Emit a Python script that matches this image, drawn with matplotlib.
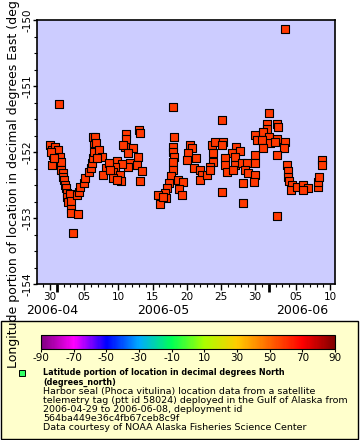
import datetime as dt
import matplotlib
matplotlib.use('Agg')
import matplotlib.pyplot as plt
import matplotlib.dates as mdates
from matplotlib.colors import LinearSegmentedColormap, Normalize
from matplotlib.patches import Rectangle
from matplotlib.ticker import MultipleLocator

plt.rcParams['axes.unicode_minus'] = False

# --- data ---
start = dt.datetime(2006, 4, 29)
# days since 2006-04-29 00:00
days = [
    2.32, 1.00, 1.29, 1.44, 1.73, 2.17, 2.46, 2.61, 1.29, 2.61, 2.90, 2.90, 3.05,
    3.20, 3.34, 3.49, 3.49, 3.64, 3.93, 4.07, 4.07, 4.07, 5.10, 4.37, 4.95, 5.25,
    5.39, 5.98, 6.12, 6.71, 7.00, 7.15, 7.30, 7.44, 7.44, 7.30, 1.15, 1.59,
    7.59, 7.73, 8.17, 8.61, 7.88, 9.20, 8.76, 12.13, 12.13, 11.98, 11.69, 13.15,
    12.42, 14.03, 14.18, 13.88, 12.71, 12.42, 13.74, 14.47, 14.18, 10.81, 11.54,
    10.52, 10.22, 11.25, 10.22, 11.40, 10.81, 9.64, 9.78,
    19.01, 19.16, 19.01, 19.01, 19.16, 19.01, 19.01, 18.72, 18.42, 18.13, 17.84,
    17.98, 17.11, 16.81, 17.54, 19.74, 20.47, 19.89, 20.33, 21.50, 21.79, 21.20,
    22.38, 21.06, 22.08, 22.96, 23.25, 22.96,
    26.18, 24.72, 25.16, 26.33, 26.18, 24.87, 24.87, 24.43, 23.99, 24.43, 28.23,
    27.65, 28.82, 26.62, 28.09, 26.62, 26.91, 28.09, 27.79, 29.11, 29.84, 29.55,
    29.99, 29.26, 26.18, 29.26, 31.01, 31.31, 31.01, 31.01, 31.01, 30.87,
    35.41, 33.06, 32.77, 34.24, 34.38, 32.77, 32.19, 33.06, 32.05, 34.24, 35.41,
    33.21, 32.19, 35.26, 34.24, 33.94, 35.70, 35.85, 35.85, 35.99, 36.43, 36.29,
    37.16, 38.04, 38.77, 38.04, 40.24, 40.24, 40.38, 40.82, 40.82, 34.24,
]
lon = [
    -151.27, -151.89, -151.97, -152.05, -151.92, -151.97, -152.08, -152.15,
    -152.20, -152.27, -152.32, -152.38, -152.42, -152.50, -152.55, -152.62,
    -152.68, -152.76, -152.64, -152.74, -152.86, -152.92, -152.94, -153.23,
    -152.65, -152.61, -152.53, -152.47, -152.39, -152.30, -152.24, -152.17,
    -152.09, -152.00, -151.86, -151.77, -152.00, -152.09,
    -151.77, -151.86, -151.97, -152.08, -152.09, -152.24, -152.35, -151.73,
    -151.80, -151.92, -151.89, -151.94, -152.02, -151.67, -151.71, -152.08,
    -152.17, -152.23, -152.20, -152.29, -152.44, -152.14, -152.18, -152.23,
    -152.30, -152.35, -152.39, -152.44, -152.42, -152.17, -152.27,
    -151.32, -151.77, -151.92, -152.00, -152.08, -152.15, -152.27, -152.36,
    -152.47, -152.55, -152.62, -152.70, -152.79, -152.65, -152.68, -152.42,
    -152.45, -152.56, -152.65, -151.89, -151.94, -152.02, -152.09, -152.12,
    -152.24, -152.27, -152.35, -152.42,
    -151.52, -151.89, -151.85, -151.85, -151.89, -152.02, -152.15, -152.23,
    -152.35, -152.27, -151.92, -152.02, -151.98, -152.09, -152.08, -152.20,
    -152.30, -152.20, -152.27, -152.17, -152.17, -152.27, -152.32, -152.47,
    -152.61, -152.77, -151.74, -151.82, -152.05, -152.17, -152.35, -152.45,
    -150.14, -151.41, -151.58, -151.58, -151.62, -151.65, -151.70, -151.77,
    -151.82, -151.80, -151.85, -151.86, -151.94, -151.94, -152.05, -151.85,
    -152.20, -152.29, -152.38, -152.44, -152.50, -152.58, -152.53, -152.50,
    -152.55, -152.58, -152.53, -152.45, -152.38, -152.12, -152.20, -152.97,
]
seal_lat = 58.6  # latitude used for marker colour
cbar_ticks = list(range(-90, 91, 20))
month_labels = ['2006-04', '2006-05', '2006-06']
month_label_days = [1.29, 17.54, 37.9]
month_starts = [dt.datetime(2006, 5, 1), dt.datetime(2006, 6, 1)]

times = [start + dt.timedelta(days=d) for d in days]

# ERDDAP-like rainbow palette
cmap = LinearSegmentedColormap.from_list('rainbow_erd', [
    '#800080', '#ff00ff', '#0000ff', '#00aaff', '#00ff55',
    '#aaff00', '#ffcc00', '#ff6600', '#ff0000', '#800000'])
norm = Normalize(-90, 90)

fig = plt.figure(figsize=(3.6, 4.4), dpi=100)
W, H = 360, 440

# legend box behind everything
fig.patches.append(Rectangle((1 / W, 1 / H), 357 / W, 118 / H, transform=fig.transFigure,
                             facecolor='#ffffcc', edgecolor='black', lw=1, zorder=-5))

ax = fig.add_axes([37 / W, 1 - 284 / H, 298 / W, 264 / H])
ax.set_facecolor('#ccccff')
ax.scatter(times, lon, marker='s', s=27, color=cmap(norm(seal_lat)),
           edgecolors='black', linewidths=0.8, zorder=3)

ax.set_xlim(start - dt.timedelta(days=0.9), start + dt.timedelta(days=42.7))
ax.set_ylim(-154, -150)
for sp in ax.spines.values():
    sp.set_linewidth(1.2)

ax.xaxis.set_major_locator(mdates.DayLocator(bymonthday=[5, 10, 15, 20, 25, 30]))
ax.xaxis.set_major_formatter(mdates.DateFormatter('%d'))
ax.xaxis.set_minor_locator(mdates.DayLocator())
ax.yaxis.set_major_locator(MultipleLocator(1))
ax.yaxis.set_minor_locator(MultipleLocator(0.25))
ax.tick_params(axis='x', which='major', length=4, width=1, labelsize=7.5, pad=2)
ax.tick_params(axis='y', which='major', length=3, width=1, labelsize=7.5, pad=0.5)
ax.tick_params(axis='both', which='minor', length=2, width=0.8)
for lab in ax.get_yticklabels():
    lab.set_rotation(90)
    lab.set_va('center')

# month boundary marks and month labels
xtr = ax.get_xaxis_transform()
ax.vlines(month_starts, -0.03, 0, transform=xtr, colors='black', lw=2, clip_on=False)
for lab, d in zip(month_labels, month_label_days):
    ax.text(start + dt.timedelta(days=d), -0.102, lab, transform=xtr,
            ha='center', va='center', fontsize=9)

cax = fig.add_axes([41 / W, 1 - 349 / H, 294 / W, 14 / H])
sm = plt.cm.ScalarMappable(norm=norm, cmap=cmap)
cb = fig.colorbar(sm, cax=cax, orientation='horizontal', ticks=cbar_ticks)
cb.outline.set_linewidth(0.8)
cax.tick_params(labelsize=7.5, length=2, pad=1)

fig.patches.append(Rectangle((19 / W, 1 - 376 / H), 6 / W, 6 / H, transform=fig.transFigure,
                             facecolor='#33ff66', edgecolor='black', lw=0.7, zorder=3))
fig.text(43 / W, 1 - 368 / H,
         'Latitude portion of location in decimal degrees North\n(degrees_north)',
         fontsize=5.8, fontweight='bold', va='top', ha='left', linespacing=1.1)
fig.text(43 / W, 1 - 387 / H,
         'Harbor seal (Phoca vitulina) location data from a satellite\n'
         'telemetry tag (ptt id 58024) deployed in the Gulf of Alaska from\n'
         '2006-04-29 to 2006-06-08, deployment id\n'
         '564ba449e36c4fb67ceb8c9f\n'
         'Data courtesy of NOAA Alaska Fisheries Science Center',
         fontsize=6.8, va='top', ha='left', linespacing=1.0)

fig.text(14 / W, 1 - 368 / H,
         'Longitude portion of location in decimal degrees East (degrees_east)',
         rotation=90, ha='center', va='bottom', fontsize=9)

fig.savefig('out.png', dpi=100)
